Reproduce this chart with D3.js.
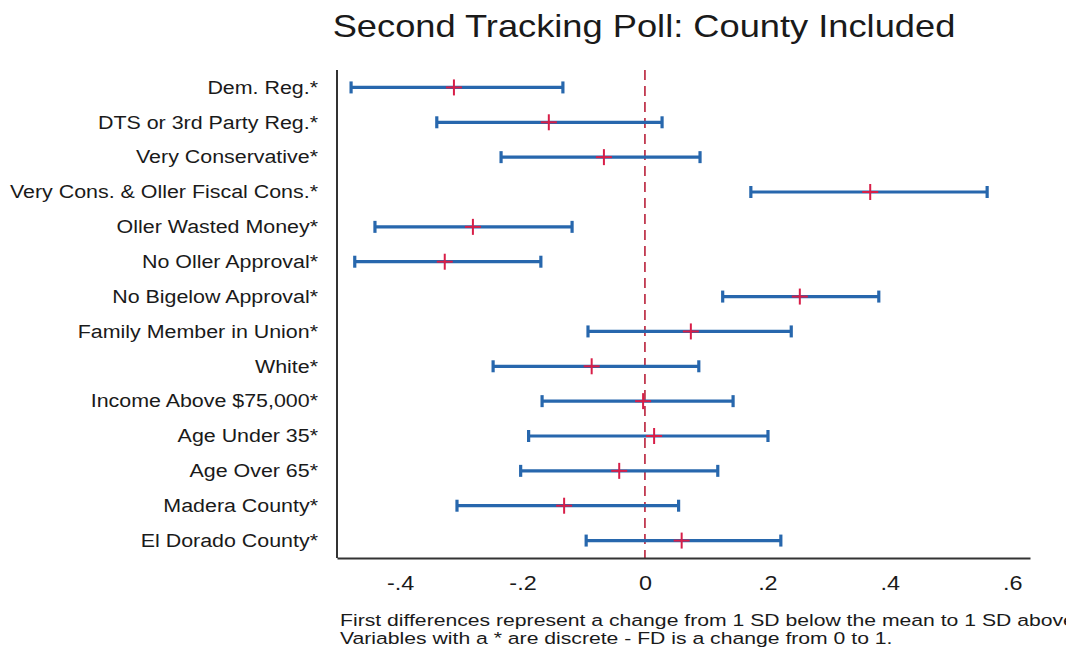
<!DOCTYPE html>
<html>
<head>
    <title>Second Tracking Poll</title>
    <script src='https://d3js.org/d3.v7.min.js' charset='utf-8'></script>
    <style type="text/css">
        body { margin: 0; background: #fff; }
        .chart { display: block; }
        .chart text { font-family: "Liberation Sans", Arial, sans-serif; fill: #1a1a1a; }
    </style>
</head>
<body>
    <svg class='chart'></svg>

    <script type='text/javascript'>
    var labels = [
        "Dem. Reg.*", "DTS or 3rd Party Reg.*", "Very Conservative*",
        "Very Cons. & Oller Fiscal Cons.*", "Oller Wasted Money*", "No Oller Approval*",
        "No Bigelow Approval*", "Family Member in Union*", "White*",
        "Income Above $75,000*", "Age Under 35*", "Age Over 65*",
        "Madera County*", "El Dorado County*"
    ];
    var estimates = [-0.312, -0.157, -0.067, 0.368, -0.281, -0.327, 0.253, 0.075, -0.087, -0.003, 0.015, -0.042, -0.132, 0.060];
    var lowers    = [-0.480, -0.340, -0.235, 0.173, -0.441, -0.474, 0.127, -0.093, -0.248, -0.168, -0.190, -0.203, -0.307, -0.096];
    var uppers    = [-0.134, 0.028, 0.090, 0.559, -0.119, -0.170, 0.382, 0.239, 0.088, 0.144, 0.201, 0.119, 0.055, 0.222];
    var xTicks = [-0.4, -0.2, 0, 0.2, 0.4, 0.6];
    var notes = [
        "First differences represent a change from 1 SD below the mean to 1 SD above the mean.",
        "Variables with a * are discrete - FD is a change from 0 to 1."
    ];

    var width = 1066;
    var height = 658;
    var plotLeft = 337, plotRight = 1030, plotTop = 70, plotBottom = 558;
    var stretch = 1.17; // the original fonts are wider than Arial

    var data = labels.map(function (d, i) {
        return { label: d, est: estimates[i], lo: lowers[i], hi: uppers[i], row: i };
    });

    var x = d3.scaleLinear()
        .domain([-0.503, 0.629])
        .range([plotLeft, plotRight]);

    var y = d3.scaleLinear()
        .domain([-0.5, labels.length - 0.5])
        .range([plotTop, plotBottom]);

    var chart = d3.select('.chart')
        .attr('width', width)
        .attr('height', height);

    // title
    chart.append('text')
        .attr('transform', 'translate(644,37) scale(' + stretch + ',1)')
        .attr('text-anchor', 'middle')
        .style('font-size', '31px')
        .text('Second Tracking Poll: County Included');

    // reference line at zero
    chart.append('line')
        .attr('x1', x(0)).attr('x2', x(0))
        .attr('y1', plotTop).attr('y2', plotBottom)
        .attr('stroke', '#b8203a')
        .attr('stroke-width', 1.6)
        .attr('stroke-dasharray', '10,6');

    var rows = chart.selectAll('.row')
        .data(data)
        .enter()
            .append('g')
            .attr('class', 'row');

    rows.append('text')
        .attr('transform', function (d) {
            return 'translate(318,' + y(d.row) + ') scale(' + 1.19 + ',1)';
        })
        .attr('dy', '0.35em')
        .attr('text-anchor', 'end')
        .style('font-size', '18px')
        .text(function (d) { return d.label; });

    var blue = '#2767ad';

    rows.append('line')
        .attr('x1', function (d) { return x(d.lo); })
        .attr('x2', function (d) { return x(d.hi); })
        .attr('y1', function (d) { return y(d.row); })
        .attr('y2', function (d) { return y(d.row); })
        .attr('stroke', blue)
        .attr('stroke-width', 3.2);

    ['lo', 'hi'].forEach(function (k) {
        rows.append('line')
            .attr('x1', function (d) { return x(d[k]); })
            .attr('x2', function (d) { return x(d[k]); })
            .attr('y1', function (d) { return y(d.row) - 6; })
            .attr('y2', function (d) { return y(d.row) + 6; })
            .attr('stroke', blue)
            .attr('stroke-width', 3.2);
    });

    // plus markers
    var red = '#d81e48';
    rows.append('line')
        .attr('x1', function (d) { return x(d.est) - 8; })
        .attr('x2', function (d) { return x(d.est) + 8; })
        .attr('y1', function (d) { return y(d.row); })
        .attr('y2', function (d) { return y(d.row); })
        .attr('stroke', red)
        .attr('stroke-width', 2);
    rows.append('line')
        .attr('x1', function (d) { return x(d.est); })
        .attr('x2', function (d) { return x(d.est); })
        .attr('y1', function (d) { return y(d.row) - 8; })
        .attr('y2', function (d) { return y(d.row) + 8; })
        .attr('stroke', red)
        .attr('stroke-width', 2);

    // axes
    chart.append('line')
        .attr('x1', plotLeft).attr('x2', plotLeft)
        .attr('y1', plotTop).attr('y2', plotBottom)
        .attr('stroke', '#333')
        .attr('stroke-width', 2);

    var xAxis = d3.axisBottom(x)
        .tickValues(xTicks)
        .tickSize(0)
        .tickSizeOuter(0)
        .tickPadding(18)
        .tickFormat(function (d) {
            if (d === 0) return '0';
            return (d < 0 ? '-' : '') + '.' + Math.round(Math.abs(d) * 10);
        });

    var gx = chart.append('g')
        .attr('transform', 'translate(0,' + plotBottom + ')')
        .call(xAxis);
    gx.select('.domain').attr('stroke', '#333').attr('stroke-width', 2);
    gx.selectAll('.tick text')
        .style('font-size', '20px')
        .attr('fill', '#1a1a1a')
        .attr('transform', 'scale(' + stretch + ',1)');

    // notes
    var noteText = chart.selectAll('.note')
        .data(notes)
        .enter()
            .append('text')
            .attr('class', 'note')
            .attr('x', 0)
            .attr('y', 0)
            .style('font-size', '17px')
            .text(function (d) { return d; });

    var natural = noteText.nodes()[1].getComputedTextLength();
    var sx = 553 / natural;
    noteText.attr('transform', function (d, i) {
        return 'translate(340,' + (626 + i * 18) + ') scale(' + sx + ',1)';
    });
    </script>
</body>
</html>
